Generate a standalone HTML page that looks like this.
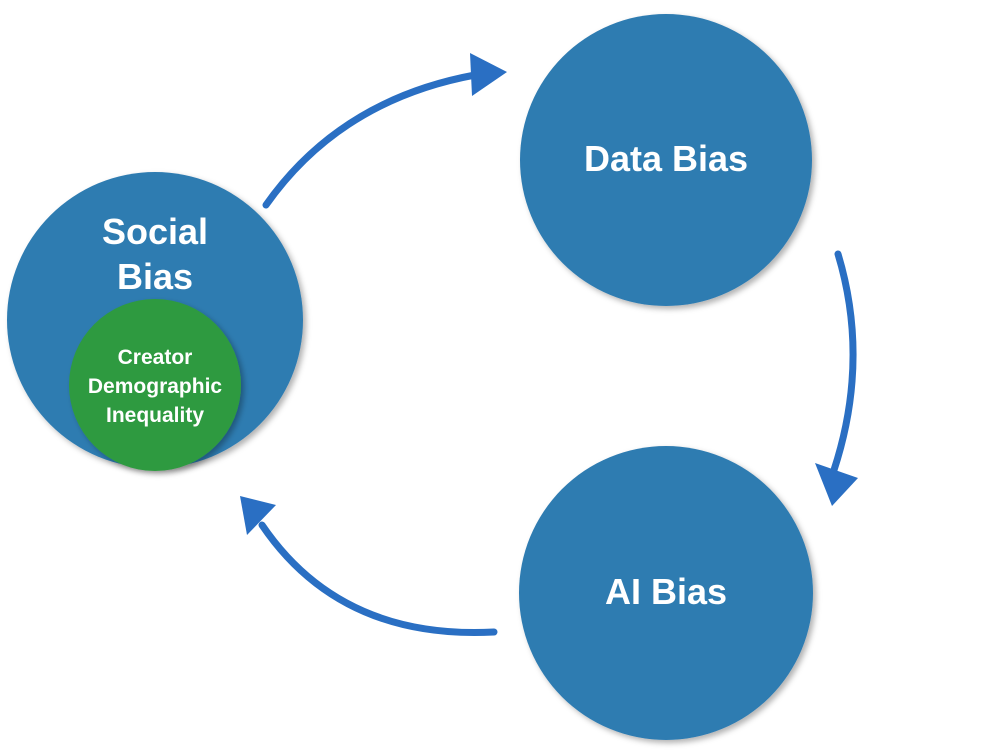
<!DOCTYPE html>
<html><head><style>
body{margin:0;background:#fff;}
svg{display:block}
text{font-family:"Liberation Sans",sans-serif;font-weight:bold;fill:#fff;text-anchor:middle}
</style></head><body>
<svg width="1000" height="750" viewBox="0 0 1000 750">
<defs>
<filter id="sh" x="-10%" y="-10%" width="130%" height="130%"><feDropShadow dx="3" dy="3" stdDeviation="3" flood-opacity="0.3"/></filter>
</defs>
<circle cx="155" cy="320" r="148" fill="#2f7bb1" filter="url(#sh)"/>
<circle cx="155" cy="385" r="86" fill="#2f9a40" filter="url(#sh)"/>
<circle cx="666" cy="160" r="146" fill="#2f7bb1" filter="url(#sh)"/>
<circle cx="666" cy="593" r="147" fill="#2f7bb1" filter="url(#sh)"/>
<text x="155" y="244" font-size="36">Social</text>
<text x="155" y="289" font-size="36">Bias</text>
<text x="155" y="364" font-size="21">Creator</text>
<text x="155" y="393" font-size="21">Demographic</text>
<text x="155" y="422" font-size="21">Inequality</text>
<text x="666" y="171" font-size="36">Data Bias</text>
<text x="666" y="604" font-size="36">AI Bias</text>
<g fill="none" stroke="#2a6fc3" stroke-width="7" stroke-linecap="round">
<path d="M266 205 Q340 100 475 75"/>
<path d="M838 254 Q870 360 834 470"/>
<path d="M494 632 Q340 640 262 525"/>
</g>
<g fill="#2a6fc3">
<polygon points="470,53 507,72 472,96"/>
<polygon points="815,463 858,478 832,506"/>
<polygon points="240,496 276,505 247,535"/>
</g>
</svg>
</body></html>
